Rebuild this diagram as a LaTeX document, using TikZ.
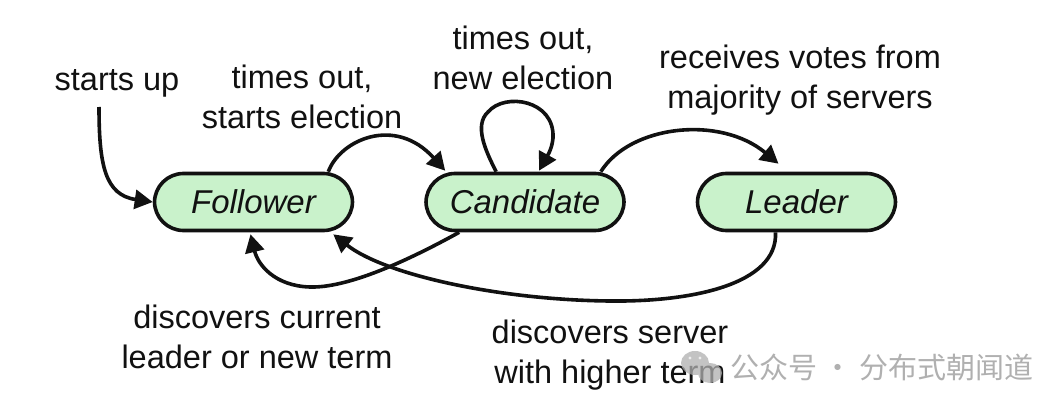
\documentclass[tikz,border=0pt]{standalone}
\usepackage{fontspec}
\setmainfont{Liberation Sans}
\newfontfamily\cjkmark{Noto Sans CJK SC}
\usetikzlibrary{arrows.meta,calc}
\definecolor{statefill}{HTML}{C9F2CB}
\definecolor{inkline}{HTML}{111111}
\definecolor{markgray}{HTML}{B0B0B0}
\tikzset{
  statebox/.style={draw=inkline,line width=3.6pt,fill=statefill,rounded corners=29pt,
    minimum width=198pt,minimum height=57pt,inner sep=0pt,
    font=\fontsize{33}{38}\selectfont\itshape,text=inkline},
  flow/.style={draw=inkline,line width=3.6pt,-{Triangle[length=18pt,width=19pt]}},
  caption/.style={font=\fontsize{32.5}{40.5}\selectfont,text=inkline,align=center,inner sep=0pt},
  markglyph/.style={font=\cjkmark\fontsize{29}{33}\selectfont,text=markgray,inner sep=0pt,anchor=west}
}
\begin{document}
\begin{tikzpicture}[x=1pt,y=-1pt]
\useasboundingbox (0,0) rectangle (1064,409);
\fill[white] (0,0) rectangle (1064,409);

% captions
\node[caption] (lstart) at (117,83) {starts up};
\node[caption] (lfc) at (302,97) {times out,\\starts election};
\node[caption] (lloop) at (523,58) {times out,\\new election};
\node[caption] (lcl) at (800,80) {receives votes from\\majority of servers};
\node[caption] (lcf) at (257,337) {discovers current\\leader or new term};
\node[caption] (llf) at (610,355) {discovers server\\with higher term};

% states
\node[statebox] (fol) at (253.5,202) {Follower};
\node[statebox] (can) at (525,202) {Candidate};
\node[statebox] (lea) at (796.5,202) {Leader};

% transitions
\coordinate (boot) at (99,107);
\draw[flow] (boot) .. controls (99,165) and (105,195) .. (fol.west);
\draw[flow] ($(fol.north east)+(-26,0)$) .. controls (340,140) and (395,115) .. ($(can.north west)+(21,-1)$);
\draw[flow] ($(can.north west)+(72,0)$) .. controls (485,150) and (474,125) .. (488,112)
   .. controls (505,92) and (555,100) .. (553,138) .. controls (552,150) and (546,158) .. ($(can.north)+(14,-1)$);
\draw[flow] ($(can.north east)+(-25,0)$) .. controls (630,125) and (720,115) .. ($(lea.north)+(-18,-8)$);
\draw[flow] ($(can.south west)+(35,0)$) .. controls (400,265) and (345,288) .. (310,287)
   .. controls (275,286) and (258,265) .. ($(fol.south)+(-3,2)$);
\draw[flow] ($(lea.south)+(-21,0)$) .. controls (778,285) and (690,302) .. (610,301)
   .. controls (500,300) and (385,275) .. ($(fol.south east)+(-21,2)$);

% account mark in the lower right corner
\begin{scope}[transparency group,opacity=.75]
\fill[markgray] (695,363) ellipse (14pt and 12pt);
\fill[markgray] (710,373) ellipse (12pt and 10pt);
\end{scope}
\fill[white,opacity=.7] (690,358) circle (1.6pt) (700,358) circle (1.6pt);
\node[markglyph] (mark) at (730,367) {公众号 · 分布式朝闻道};
\end{tikzpicture}
\end{document}
